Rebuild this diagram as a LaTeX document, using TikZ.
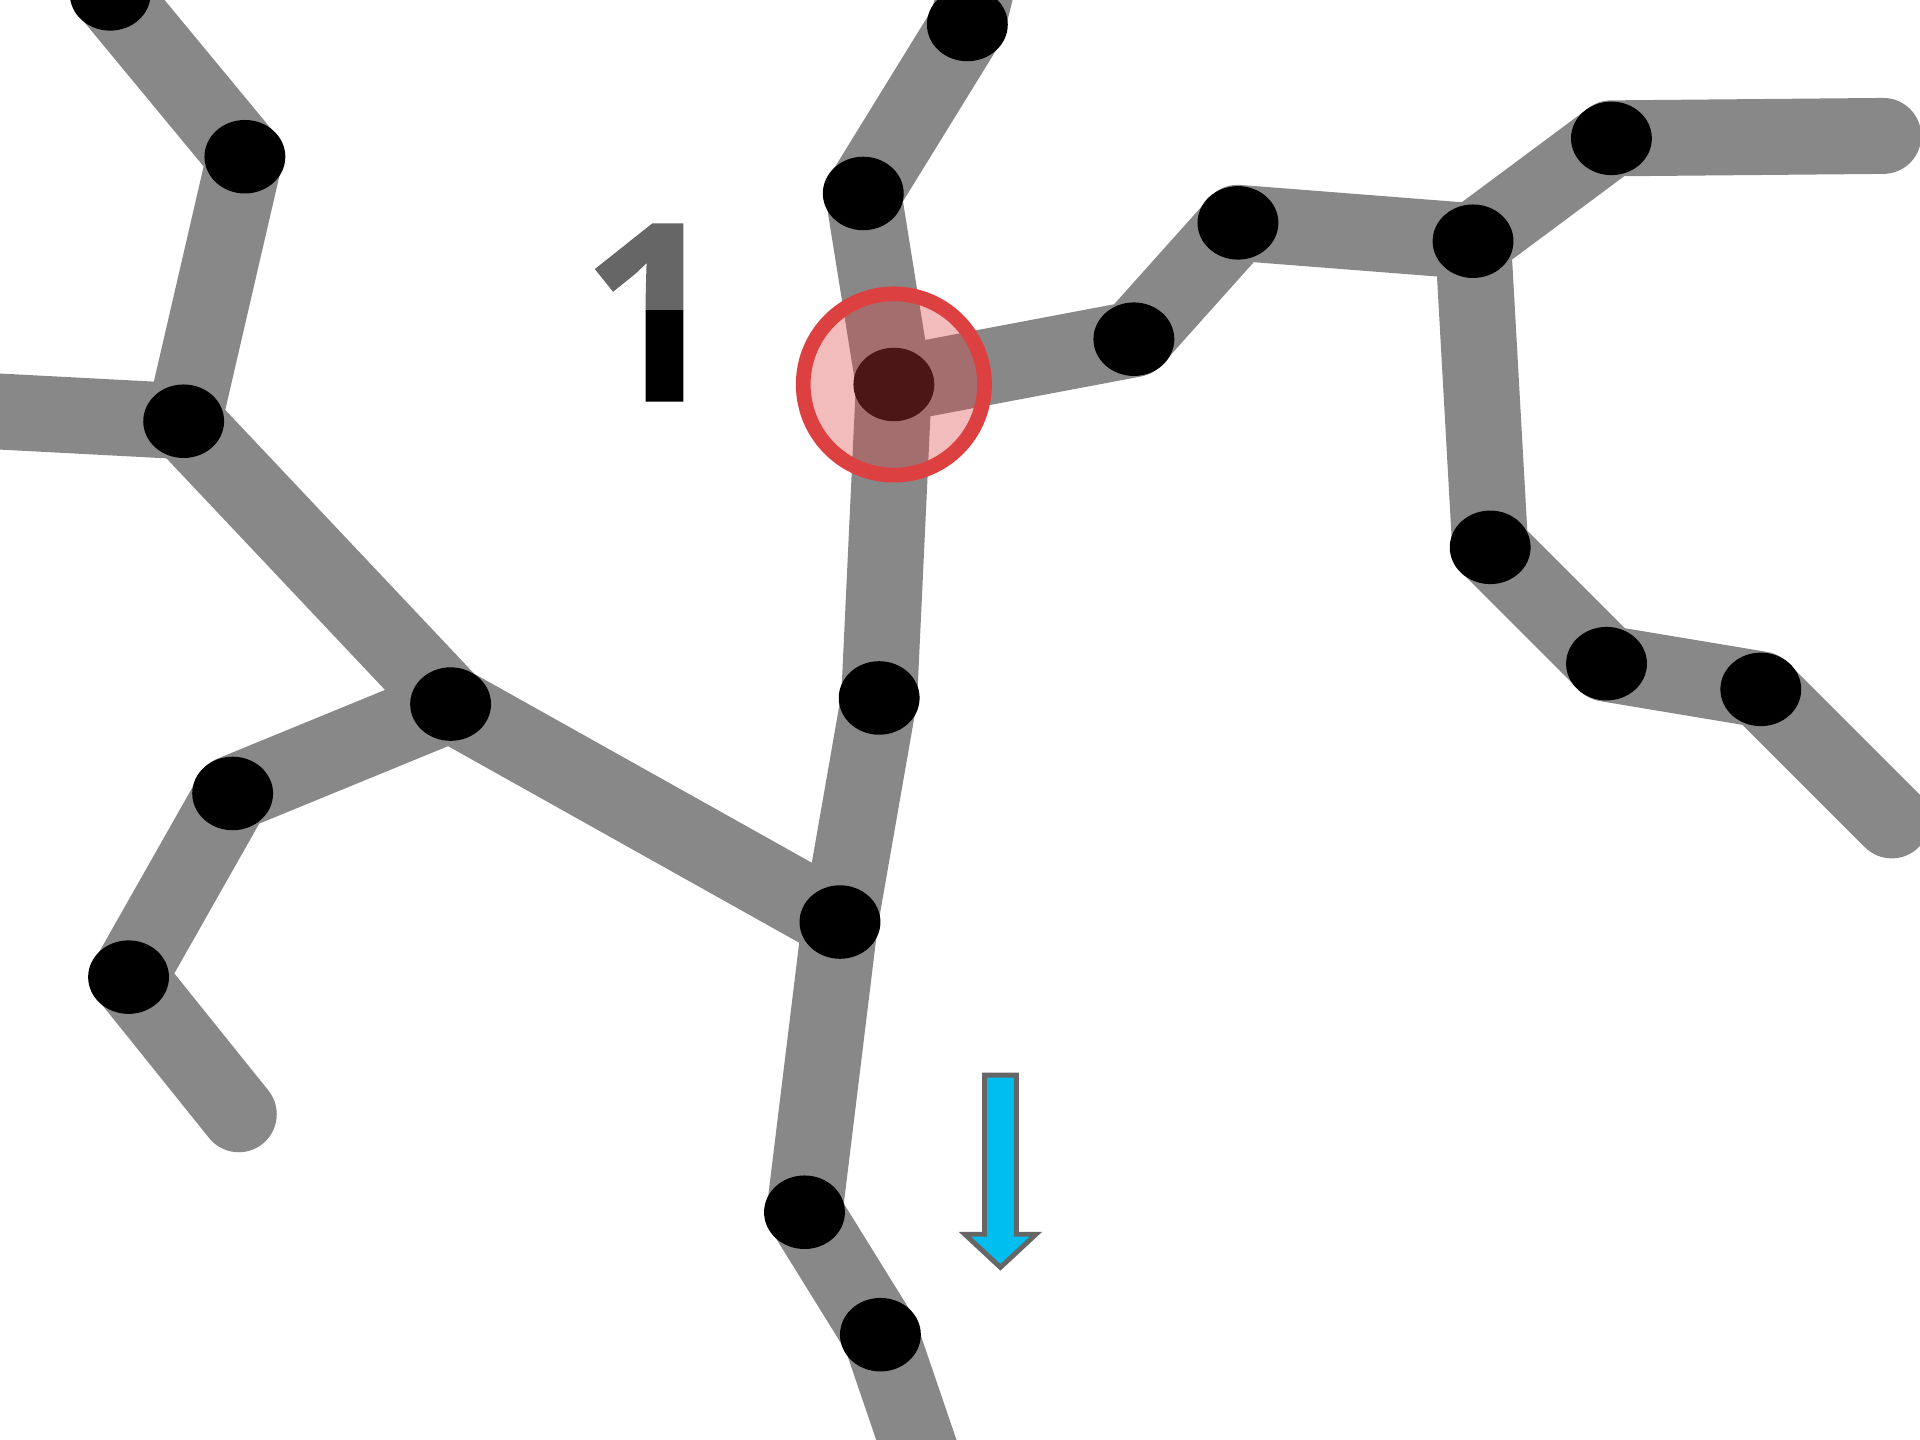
\documentclass[tikz,border=0pt]{standalone}
\usepackage{fontspec}
\usetikzlibrary{shapes.geometric}
\newfontfamily\digitfont{Open Sans}
\definecolor{branchgray}{HTML}{888888}
\definecolor{ringred}{HTML}{DD4040}
\definecolor{arrowblue}{HTML}{00BFF0}
\definecolor{arrowedge}{HTML}{666666}
% digit with a white rim, gray above and black below
\newcommand\steptwotone[1]{%
  \special{pdf:literal direct 6 Tr 1 1 1 RG 2.6 w 1 j}#1%
  \special{pdf:literal direct 0 Tr}%
  \special{pdf:literal 0 0 0 rg -45 -5 55 26.3 re f 0.4 0.4 0.4 rg -45 21.3 55 35 re f}}
\tikzset{
  branch/.style={draw=branchgray, line width=0.62cm, line cap=round, line join=round},
  knot/.style={ellipse, fill=black, inner sep=0pt, minimum width=0.66cm, minimum height=0.6cm},
  digit/.style={font=\digitfont\bfseries\fontsize{58}{60}\selectfont, inner sep=0pt, text=white},
}
\begin{document}
\begin{tikzpicture}[x=0.01cm, y=-0.01cm]
% Frame of the picture
\clip (0,0) rectangle (1568,1176);
\fill[white] (0,0) rectangle (1568,1176);

% Branch points
\coordinate (a) at (90,-5);
\coordinate (b) at (200,128);
\coordinate (c) at (150,344);
\coordinate (cl) at (-40,334);
\coordinate (d) at (368,575);
\coordinate (e) at (190,648);
\coordinate (f) at (105,798);
\coordinate (fe) at (195,910);
\coordinate (h) at (686,753);
\coordinate (top) at (805,-40);
\coordinate (t) at (790,20);
\coordinate (i) at (705,158);
\coordinate (j) at (730,314);
\coordinate (k) at (718,570);
\coordinate (l) at (657,990);
\coordinate (m) at (719,1090);
\coordinate (bot) at (760,1210);
\coordinate (n) at (926,277);
\coordinate (o) at (1011,182);
\coordinate (p) at (1203,197);
\coordinate (q) at (1316,113);
\coordinate (qe) at (1538,111);
\coordinate (r) at (1217,447);
\coordinate (s) at (1312,542);
\coordinate (u) at (1438,563);
\coordinate (ue) at (1545,670);

% Gray branches
\draw[branch] (a) -- (b) -- (c) -- (cl);
\draw[branch] (c) -- (d) -- (h);
\draw[branch] (d) -- (e) -- (f) -- (fe);
\draw[branch] (top) -- (t) -- (i) -- (j) -- (k) -- (h) -- (l) -- (m) -- (bot);
\draw[branch] (j) -- (n) -- (o) -- (p) -- (q) -- (qe);
\draw[branch] (p) -- (r) -- (s) -- (u) -- (ue);

% Knots on the branches
\foreach \p in {a,b,c,d,e,f,h,t,i,j,k,l,m,n,o,p,q,r,s,u}
  \node[knot] (knot-\p) at (\p) {};

% Highlighted knot
\node[circle, draw=ringred, line width=0.12cm, fill=ringred, fill opacity=0.35,
      draw opacity=1, minimum size=1.48cm, inner sep=0pt] (ring) at (j) {};

% Step number
\node[digit, anchor=base] (one) at (532,328) {\steptwotone{1}};

% Down arrow
\draw[draw=arrowedge, fill=arrowblue, line width=0.04cm, line join=miter]
  (804,878) -- (830,878) -- (830,1008) -- (846,1008) -- (817,1035) -- (788,1008) -- (804,1008) -- cycle;
\end{tikzpicture}
\end{document}
